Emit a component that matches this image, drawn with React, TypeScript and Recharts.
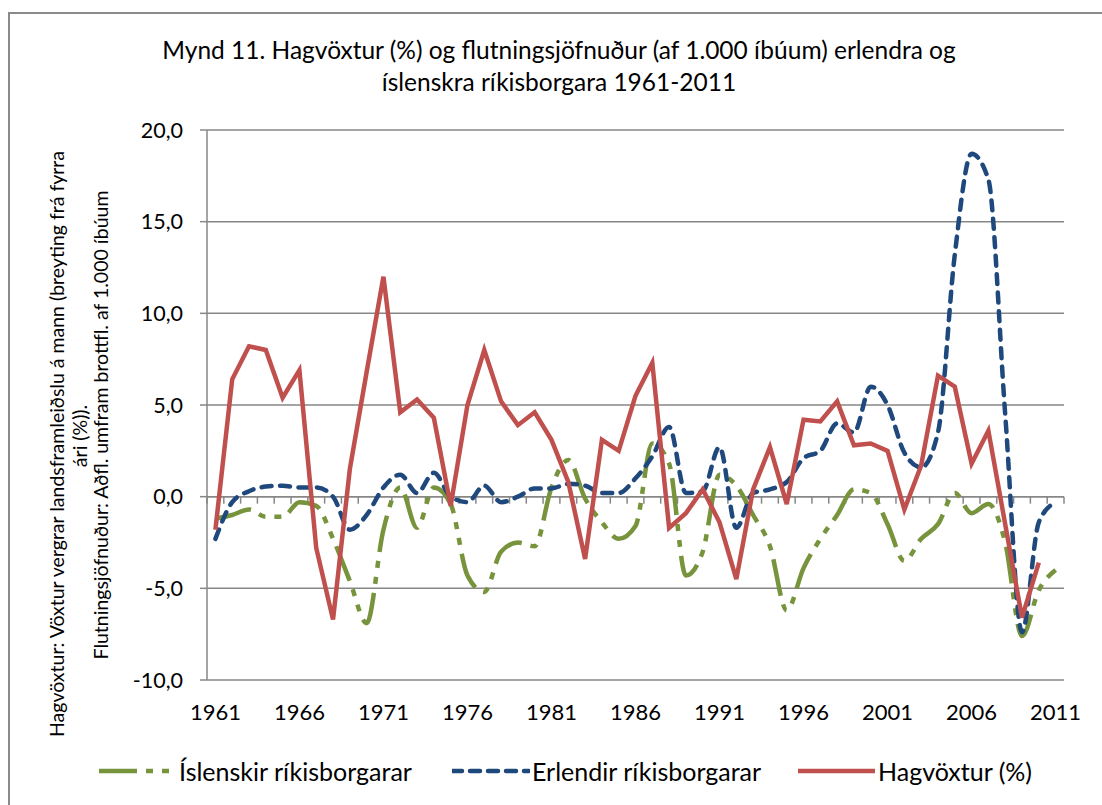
import React from 'react';
import { LineChart, Line, XAxis, YAxis, CartesianGrid, ReferenceLine } from 'recharts';

const years = [
  1961, 1962, 1963, 1964, 1965, 1966, 1967, 1968, 1969, 1970,
  1971, 1972, 1973, 1974, 1975, 1976, 1977, 1978, 1979, 1980,
  1981, 1982, 1983, 1984, 1985, 1986, 1987, 1988, 1989, 1990,
  1991, 1992, 1993, 1994, 1995, 1996, 1997, 1998, 1999, 2000,
  2001, 2002, 2003, 2004, 2005, 2006, 2007, 2008, 2009, 2010,
  2011,
];

// Íslenskir ríkisborgarar (flutningsjöfnuður á 1.000 íbúa)
const islenskir = [
  -1.2, -1.0, -0.7, -1.1, -1.1, -0.3, -0.5, -2.3, -4.6, -6.9,
  -1.8, 0.5, -1.7, 0.5, -0.4, -4.3, -5.2, -3.0, -2.5, -2.7,
  0.5, 2.0, -0.1, -1.4, -2.3, -1.6, 2.9, 1.8, -4.3, -3.0,
  1.2, 0.6, -1.0, -2.7, -6.2, -3.9, -2.3, -1.0, 0.4, 0.2,
  -1.5, -3.5, -2.3, -1.5, 0.2, -0.9, -0.4, -2.5, -7.6, -5.1,
  -4.0,
];

// Erlendir ríkisborgarar
const erlendir = [
  -2.3, -0.3, 0.3, 0.55, 0.6, 0.5, 0.5, 0.0, -1.8, -1.0,
  0.5, 1.2, 0.2, 1.3, 0.0, -0.3, 0.6, -0.3, 0.0, 0.45,
  0.45, 0.7, 0.6, 0.2, 0.2, 1.0, 2.2, 3.8, 0.2, 0.3,
  2.7, -1.7, 0.2, 0.4, 0.8, 2.1, 2.5, 4.0, 3.5, 6.0,
  5.0, 2.4, 1.6, 3.5, 13.2, 18.7, 17.3, 4.5, -7.4, -1.4,
  -0.3,
];

// Hagvöxtur (%)
const hagvoxtur: (number | null)[] = [
  -1.8, 6.4, 8.2, 8.0, 5.4, 6.9, -2.8, -6.7, 1.5, 6.8,
  12.0, 4.6, 5.3, 4.3, -0.5, 5.0, 8.0, 5.2, 3.9, 4.6,
  3.1, 0.8, -3.4, 3.1, 2.5, 5.5, 7.3, -1.7, -0.9, 0.4,
  -1.4, -4.5, 0.4, 2.7, -0.4, 4.2, 4.1, 5.2, 2.8, 2.9,
  2.5, -0.7, 1.7, 6.6, 6.0, 1.8, 3.6, -1.5, -6.6, -3.6,
  null,
];

const xTicks = [1961, 1966, 1971, 1976, 1981, 1986, 1991, 1996, 2001, 2006, 2011];
const yTicks = [-10, -5, 0, 5, 10, 15, 20];

const titleLines = [
  'Mynd 11. Hagvöxtur (%) og flutningsjöfnuður (af 1.000 íbúum) erlendra og',
  'íslenskra ríkisborgara 1961-2011',
];
const yLabelLines = [
  'Hagvöxtur: Vöxtur vergrar landsframleiðslu á mann (breyting frá fyrra',
  'ári (%)).',
  'Flutningsjöfnuður: Aðfl. umfram brottfl. af 1.000 íbúum',
];

const seriesNames = {
  isl: 'Íslenskir ríkisborgarar',
  erl: 'Erlendir ríkisborgarar',
  hag: 'Hagvöxtur (%)',
};

const data = years.map((year, i) => ({
  year,
  isl: islenskir[i],
  erl: erlendir[i],
  hag: hagvoxtur[i],
}));

const GREEN = '#77933C';
const BLUE = '#1F497D';
const RED = '#C0504D';
const GRID = '#878787';
const FONT = "Lato, 'Liberation Sans', Arial, sans-serif";
const GREEN_DASH = '37 9 7 9 7 9';
const BLUE_DASH = '10 8.5';

const fmt = (v: number) => v.toFixed(1).replace('.', ',');

const ZeroAxis = (p: any) => {
  const { x1, y1, x2 } = p;
  const n = years.length;
  const step = (x2 - x1) / n;
  const marks = [];
  for (let i = 0; i <= n; i++) {
    const x = x1 + i * step;
    marks.push(<line key={i} x1={x} x2={x} y1={y1} y2={y1 + 7} stroke={GRID} strokeWidth={1.5} />);
  }
  return (
    <g>
      <line x1={x1} x2={x2} y1={y1} y2={y1} stroke={GRID} strokeWidth={1.5} />
      {marks}
    </g>
  );
};

const LegendItem = ({ left, color, dash, cap, label }: any) => (
  <div style={{ position: 'absolute', left, top: 755, height: 32, display: 'flex', alignItems: 'center' }}>
    <svg width={78} height={30}>
      <line x1={0} x2={77} y1={15} y2={15} stroke={color} strokeWidth={4.5} strokeDasharray={dash} strokeLinecap={cap} />
    </svg>
    <span style={{ fontSize: 25, color: '#000', marginLeft: 2, whiteSpace: 'nowrap' }}>{label}</span>
  </div>
);

export default function App() {
  return (
    <div style={{ position: 'absolute', left: 0, top: 0, width: 1102, height: 805, overflow: 'hidden', background: '#fff', fontFamily: FONT }}>
      <div style={{ position: 'absolute', left: 8, top: 12, width: 1120, height: 820, border: '2px solid #8a8a8a', boxSizing: 'border-box' }} />
      <div style={{ position: 'absolute', left: 8, top: 34, width: 1102, textAlign: 'center', fontSize: 24.5, lineHeight: '32px', color: '#000' }}>
        {titleLines.map((t) => (
          <div key={t}>{t}</div>
        ))}
      </div>
      <div style={{ position: 'absolute', left: 0, top: 0 }}>
        <LineChart width={1102} height={805} data={data} margin={{ top: 130, right: 38, bottom: 85, left: 147 }}>
          <CartesianGrid horizontal vertical={false} stroke={GRID} strokeWidth={1.5} />
          <XAxis
            dataKey="year"
            type="number"
            domain={[1960.5, 2011.5]}
            ticks={xTicks}
            allowDataOverflow
            axisLine={false}
            tickLine={false}
            tickSize={0}
            tickMargin={24}
            height={40}
            interval={0}
            tick={{ fill: '#000', fontSize: 22, fontFamily: FONT }}
          />
          <YAxis
            domain={[-10, 20]}
            ticks={yTicks}
            allowDataOverflow
            width={60}
            interval={0}
            tickFormatter={fmt}
            axisLine={{ stroke: GRID, strokeWidth: 1.5 }}
            tickLine={{ stroke: GRID, strokeWidth: 1.5 }}
            tickSize={7}
            tickMargin={17}
            tick={{ fill: '#000', fontSize: 21.5, fontFamily: FONT }}
          />
          <ReferenceLine y={0} shape={ZeroAxis} zIndex={-50} />
          <Line
            type="monotone"
            dataKey="isl"
            name={seriesNames.isl}
            stroke={GREEN}
            strokeWidth={4.5}
            strokeDasharray={GREEN_DASH}
            dot={false}
            activeDot={false}
            isAnimationActive={false}
          />
          <Line
            type="monotone"
            dataKey="erl"
            name={seriesNames.erl}
            stroke={BLUE}
            strokeWidth={4.5}
            strokeDasharray={BLUE_DASH}
            strokeLinecap="round"
            dot={false}
            activeDot={false}
            isAnimationActive={false}
          />
          <Line
            type="linear"
            dataKey="hag"
            name={seriesNames.hag}
            stroke={RED}
            strokeWidth={4.5}
            dot={false}
            activeDot={false}
            connectNulls={false}
            isAnimationActive={false}
          />
        </LineChart>
      </div>
      <svg style={{ position: 'absolute', left: 0, top: 0 }} width={200} height={805}>
        <text x={56} y={444} transform="rotate(-90 56 444)" textAnchor="middle" dominantBaseline="central" fontSize={19.5} fontFamily={FONT} fill="#000">
          {yLabelLines[0]}
        </text>
        <text x={79} y={436} transform="rotate(-90 79 436)" textAnchor="middle" dominantBaseline="central" fontSize={19.5} fontFamily={FONT} fill="#000">
          {yLabelLines[1]}
        </text>
        <text x={100} y={425} transform="rotate(-90 100 425)" textAnchor="middle" dominantBaseline="central" fontSize={19.5} fontFamily={FONT} fill="#000">
          {yLabelLines[2]}
        </text>
      </svg>
      <LegendItem left={99} color={GREEN} dash="38 9 7 9 7 9" cap="butt" label={seriesNames.isl} />
      <LegendItem left={452} color={BLUE} dash="10 8" cap="round" label={seriesNames.erl} />
      <LegendItem left={798} color={RED} cap="butt" label={seriesNames.hag} />
    </div>
  );
}
